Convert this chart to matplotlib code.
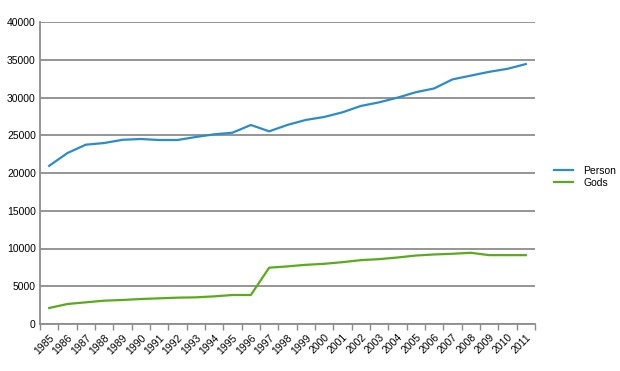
import numpy as np
import matplotlib.pyplot as plt

plt.rcParams["font.family"] = ["Liberation Sans", "DejaVu Sans"]

# ---- Data ----
years = [str(y) for y in range(1985, 2012)]
person = [20950, 22650, 23750, 23970, 24400, 24500, 24370, 24370, 24770, 25120,
          25340, 26360, 25520, 26370, 27030, 27420, 28040, 28880, 29360, 29980,
          30700, 31200, 32400, 32900, 33400, 33800, 34430]
gods = [2120, 2650, 2870, 3090, 3180, 3310, 3400, 3490, 3530, 3660,
        3840, 3840, 7460, 7630, 7840, 7970, 8190, 8460, 8590, 8810,
        9070, 9210, 9300, 9430, 9120, 9120, 9120]

blue = "#2b8ccb"
green = "#5aab1c"
grid_c = "#8c8c8c"

fig = plt.figure(figsize=(6.2, 3.71), dpi=100)
ax = fig.add_axes([40 / 620, 1 - 324 / 371, 495 / 620, 302 / 371])

x = np.arange(len(years))
ax.plot(x, person, color=blue, linewidth=1.6, label="Person")
ax.plot(x, gods, color=green, linewidth=1.6, label="Gods")

ax.set_xlim(-0.5, len(years) - 0.5)
ax.set_ylim(0, 40000)
ax.set_yticks(np.arange(0, 40001, 5000))
ax.yaxis.grid(True, color=grid_c, linewidth=1.3)
ax.set_axisbelow(True)

# category labels centred, tick marks between categories
ax.set_xticks(x)
ax.set_xticklabels(years, rotation=45, ha="right", rotation_mode="anchor")
ax.set_xticks(np.arange(-0.5, len(years)), minor=True)
ax.tick_params(axis="x", which="major", length=0, labelsize=7.5, pad=6)
ax.tick_params(axis="x", which="minor", length=4, color=grid_c, width=1)
ax.tick_params(axis="y", length=0, labelsize=7.5, pad=3)

for s in ["top", "right"]:
    ax.spines[s].set_visible(False)
ax.spines["left"].set_color(grid_c)
ax.spines["bottom"].set_color(grid_c)
ax.spines["left"].set_linewidth(1.3)
ax.spines["bottom"].set_linewidth(1.3)

fig.legend(loc="center left", bbox_to_anchor=(545 / 620, 1 - 177 / 371),
           frameon=False, fontsize=7.5, handlelength=1.8, labelspacing=0.2,
           handletextpad=1.0)

fig.savefig("out.png", dpi=100)
